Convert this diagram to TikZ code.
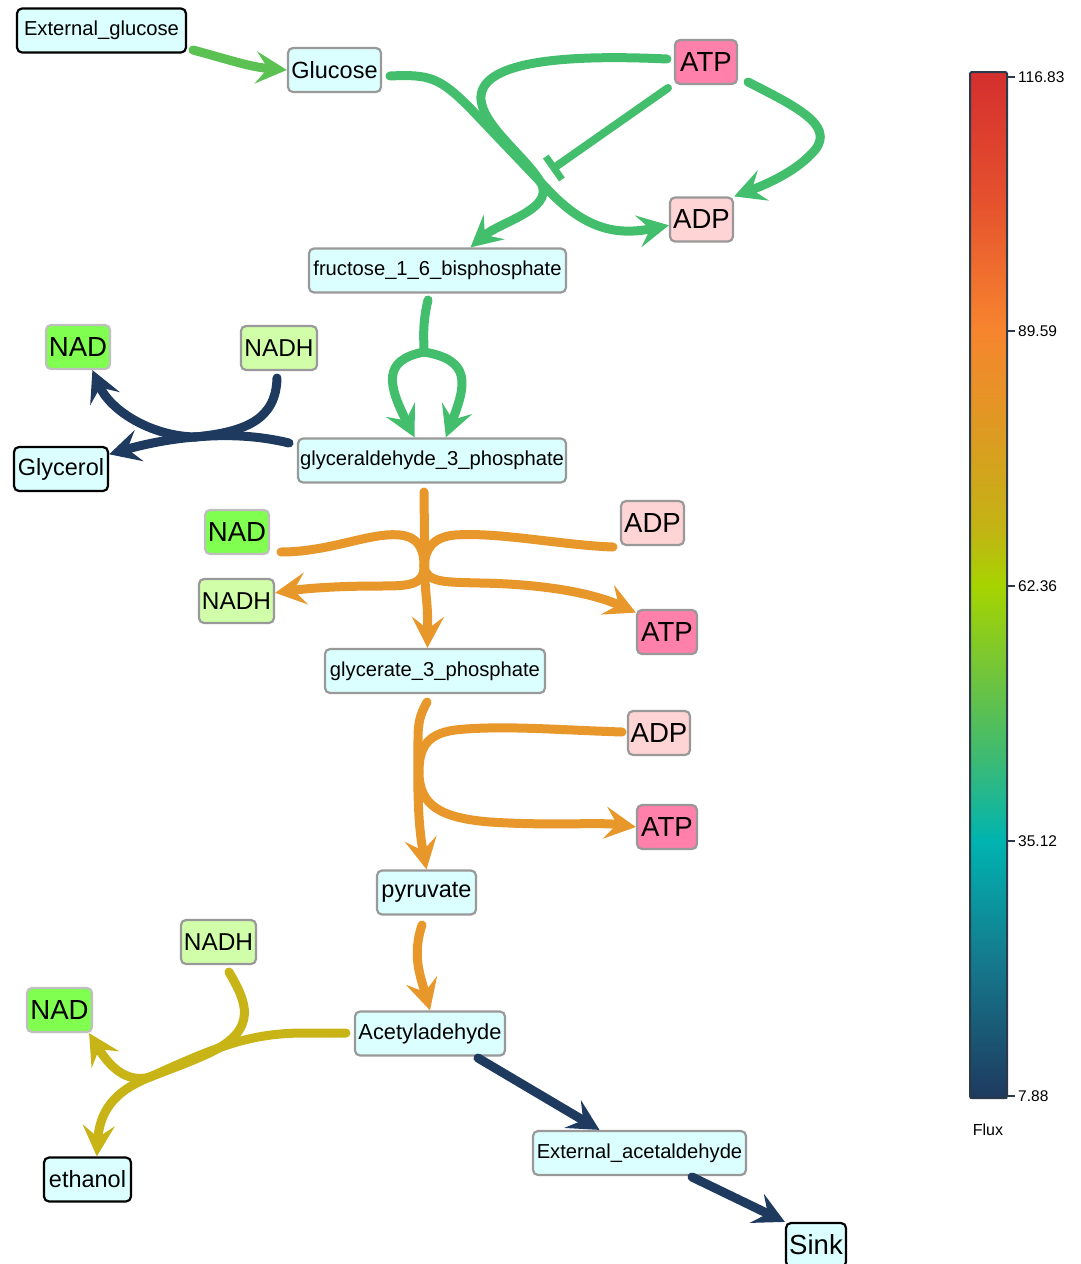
\documentclass[tikz,border=0pt]{standalone}
\usepackage{fontspec}
\setmainfont{Liberation Sans}
\usetikzlibrary{arrows.meta,calc}
\definecolor{cyanfill}{HTML}{DBFFFF}
\definecolor{atpfill}{HTML}{FF80AA}
\definecolor{adpfill}{HTML}{FFD4D4}
\definecolor{nadfill}{HTML}{80FF50}
\definecolor{nadhfill}{HTML}{D1FFA9}
\definecolor{bordergray}{HTML}{999999}
\definecolor{borderlight}{HTML}{BFBFBF}
\definecolor{fgreenA}{HTML}{5BC153}
\definecolor{fgreen}{HTML}{43BE6C}
\definecolor{forange}{HTML}{E8972A}
\definecolor{fnavy}{HTML}{1F3A5F}
\definecolor{folive}{HTML}{C8B417}
\definecolor{cbA}{HTML}{D42F2E}
\definecolor{cbB}{HTML}{E5512E}
\definecolor{cbC}{HTML}{F7852E}
\definecolor{cbD}{HTML}{DE9A22}
\definecolor{cbE}{HTML}{C2B414}
\definecolor{cbF}{HTML}{A6D400}
\definecolor{cbG}{HTML}{6EC43E}
\definecolor{cbH}{HTML}{3CBA74}
\definecolor{cbI}{HTML}{00B4B0}
\definecolor{cbJ}{HTML}{157A8E}
\definecolor{cbK}{HTML}{1E3A5F}
\definecolor{cbframe}{HTML}{2B3A4A}
\tikzset{
  met/.style={draw=bordergray, line width=2.2pt, rounded corners=5pt, minimum height=44pt,
    inner sep=0pt, fill=cyanfill, text=black},
  extmet/.style={met, draw=black},
  atpbox/.style={met, fill=atpfill},
  adpbox/.style={met, fill=adpfill},
  nadbox/.style={met, fill=nadfill, draw=borderlight},
  nadhbox/.style={met, fill=nadhfill},
  fsL/.style={font=\fontsize{20.2}{24}\selectfont},
  fsM/.style={font=\fontsize{23.5}{28}\selectfont},
  fsN/.style={font=\fontsize{24.4}{29}\selectfont},
  fsS/.style={font=\fontsize{27.6}{32}\selectfont},
  plainline/.style={line width=9pt, line cap=round},
  flowline/.style={plainline, -{Stealth[length=31pt,width=32pt,inset=12pt]}},
  tick/.style={draw=cbframe, line width=1.5pt},
  ticklabel/.style={anchor=west, inner sep=0pt, font=\fontsize{15.5}{18}\selectfont}
}
\begin{document}
\begin{tikzpicture}[x=1pt,y=-1pt]
\useasboundingbox (0,0) rectangle (1080,1264);

% ---------------- nodes ----------------
\node[extmet, fsL, minimum width=169pt] (extg) at (101.5,30.5) {External\_glucose};
\node[met, fsM, minimum width=93pt] (glc) at (334.5,70) {Glucose};
\node[atpbox, fsS, minimum width=62pt] (atp1) at (706,62) {ATP};
\node[adpbox, fsS, minimum width=63pt] (adp1) at (701.5,219.5) {ADP};
\node[met, fsL, minimum width=257pt] (f16) at (437.5,270.5) {fructose\_1\_6\_bisphosphate};
\node[nadbox, fsS, minimum width=64pt] (nad1) at (78,347) {NAD};
\node[nadhbox, fsN, minimum width=76pt] (nadh1) at (279,348) {NADH};
\node[extmet, fsM, minimum width=94pt] (glycerol) at (61,469) {Glycerol};
\node[met, fsL, minimum width=268pt] (g3p) at (432,460.5) {glyceraldehyde\_3\_phosphate};
\node[nadbox, fsS, minimum width=64pt] (nad2) at (237,532) {NAD};
\node[adpbox, fsS, minimum width=63pt] (adp2) at (652.5,523) {ADP};
\node[nadhbox, fsN, minimum width=75pt] (nadh2) at (236.5,601) {NADH};
\node[atpbox, fsS, minimum width=60pt] (atp2) at (667,632) {ATP};
\node[met, fsL, minimum width=220pt] (gly3p) at (435,671) {glycerate\_3\_phosphate};
\node[adpbox, fsS, minimum width=62pt] (adp3) at (659,733) {ADP};
\node[atpbox, fsS, minimum width=60pt] (atp3) at (667,827) {ATP};
\node[met, fsM, minimum width=99pt] (pyr) at (426.5,892.5) {pyruvate};
\node[nadhbox, fsN, minimum width=75pt] (nadh3) at (218.5,942) {NADH};
\node[nadbox, fsS, minimum width=65pt] (nad3) at (59.5,1010) {NAD};
\node[met, fsM, font=\fontsize{21.8}{26}\selectfont, minimum width=150pt] (acet) at (430,1033.5) {Acetyladehyde};
\node[extmet, fsM, minimum width=87pt] (ethanol) at (87.5,1179.5) {ethanol};
\node[met, fsL, minimum width=213pt] (extac) at (639.5,1153) {External\_acetaldehyde};
\node[extmet, fsS, minimum width=60pt] (sink) at (816,1245) {Sink};

% ---------------- free ends ----------------
\coordinate (egS) at (193,50);
\coordinate (glcS) at (390,76);
\coordinate (atpS) at (667,59);
\coordinate (atpI) at (668,88);
\coordinate (inhib) at (551,170);
\coordinate (atpR) at (748,82);
\coordinate (fS) at (428,300);
\coordinate (fJ) at (424,352);
\coordinate (gS) at (289,443);
\coordinate (nhS1) at (277,378);
\coordinate (gJ) at (195,437);
\coordinate (oS) at (424,492);
\coordinate (nadS2) at (281,552);
\coordinate (adpS2) at (613,547);
\coordinate (oJ) at (424,566);
\coordinate (pS) at (427,702);
\coordinate (adpS3) at (622,732);
\coordinate (pJ) at (419,772);
\coordinate (pyS) at (422,925);
\coordinate (acS) at (346,1033);
\coordinate (nhS3) at (229,972);
\coordinate (yJ) at (150,1077);
\coordinate (acS2) at (478,1058);
\coordinate (exS) at (692,1177);

% ---------------- green ----------------
\draw[flowline, fgreenA] (egS) .. controls (230,60) and (250,67) .. (glc.west);
\draw[flowline, fgreen] (glcS) .. controls (430,74) and (440,78) .. (470,108) -- (550,192)
  .. controls (585,228) and (615,236) .. (adp1.190);
\draw[flowline, fgreen] (atpS) .. controls (560,54) and (478,62) .. (481,100)
  .. controls (484,128) and (530,160) .. (542,185)
  .. controls (552,210) and (500,222) .. (f16.35);
\draw[line width=8pt, line cap=round, fgreen, -{Bar[width=28pt,line width=7pt]}] (atpI) -- (inhib);
\draw[flowline, fgreen] (atpR) .. controls (795,106) and (835,125) .. (815,150)
  .. controls (798,170) and (770,183) .. (adp1.north east);
\draw[plainline, fgreen] (fS) .. controls (422,325) and (424,340) .. (fJ);
\draw[flowline, fgreen] (fJ) .. controls (382,360) and (388,385) .. (g3p.127);
\draw[flowline, fgreen] (fJ) .. controls (472,360) and (466,385) .. (g3p.59);

% ---------------- navy (glycerol) ----------------
\draw[plainline, fnavy] (gS) .. controls (260,436) and (230,434) .. (gJ);
\draw[plainline, fnavy] (nhS1) .. controls (276,420) and (245,432) .. (gJ);
\draw[flowline, fnavy] (gJ) .. controls (170,439) and (145,444) .. (glycerol.17);
\draw[flowline, fnavy] (gJ) .. controls (150,436) and (110,410) .. (nad1.-58);

% ---------------- orange (g3p -> gly3p) ----------------
\draw[plainline, forange] (nadS2) .. controls (330,552) and (370,532) .. (400,535)
  .. controls (418,537) and (424,548) .. (oJ);
\draw[plainline, forange] (adpS2) .. controls (560,545) and (500,532) .. (455,535)
  .. controls (432,537) and (425,550) .. (oJ);
\draw[flowline, forange] (oJ) .. controls (424,585) and (410,586) .. (380,586)
  .. controls (340,586) and (310,588) .. (nadh2.12);
\draw[flowline, forange] (oJ) .. controls (426,583) and (445,582) .. (480,583)
  .. controls (540,584) and (590,592) .. (atp2.148);
\draw[flowline, forange] (oS) -- (425,580) .. controls (426,600) and (428,605) .. (gly3p.108);

% ---------------- orange (gly3p -> pyruvate) ----------------
\draw[flowline, forange] (pS) .. controls (420,715) and (418,722) .. (418,740)
  .. controls (417,800) and (419,830) .. (pyr.north);
\draw[plainline, forange] (adpS3) .. controls (560,730) and (500,725) .. (455,730)
  .. controls (425,734) and (419,750) .. (pJ);
\draw[flowline, forange] (pJ) .. controls (419,805) and (440,818) .. (490,822)
  .. controls (550,826) and (600,822) .. (atp3.west);
\draw[flowline, forange] (pyS) .. controls (412,955) and (420,975) .. (acet.north);

% ---------------- olive (ethanol) ----------------
\draw[plainline, folive] (acS) -- (300,1033) .. controls (250,1034) and (220,1045) .. (yJ);
\draw[plainline, folive] (nhS3) .. controls (245,1000) and (262,1030) .. (205,1055)
  .. controls (185,1064) and (165,1071) .. (yJ);
\draw[flowline, folive] (yJ) .. controls (125,1084) and (108,1064) .. (nad3.-38);
\draw[flowline, folive] (yJ) .. controls (122,1088) and (100,1105) .. (ethanol.68);

% ---------------- navy (export) ----------------
\draw[flowline, fnavy] (acS2) -- (extac.150);
\draw[flowline, fnavy] (exS) -- (sink.north west);

% ---------------- colour bar ----------------
\shade[top color=cbA, bottom color=cbB] (970,72) rectangle (1007,200);
\shade[top color=cbB, bottom color=cbC] (970,199.5) rectangle (1007,331);
\shade[top color=cbC, bottom color=cbD] (970,330.5) rectangle (1007,430);
\shade[top color=cbD, bottom color=cbE] (970,429.5) rectangle (1007,530);
\shade[top color=cbE, bottom color=cbF] (970,529.5) rectangle (1007,586);
\shade[top color=cbF, bottom color=cbG] (970,585.5) rectangle (1007,680);
\shade[top color=cbG, bottom color=cbH] (970,679.5) rectangle (1007,760);
\shade[top color=cbH, bottom color=cbI] (970,759.5) rectangle (1007,841);
\shade[top color=cbI, bottom color=cbJ] (970,840.5) rectangle (1007,960);
\shade[top color=cbJ, bottom color=cbK] (970,959.5) rectangle (1007,1098);
\draw[cbframe, line width=2pt, rounded corners=2pt] (970,72) rectangle (1007,1098);
\foreach \yy/\lab in {77/116.83, 331/89.59, 586/62.36, 841/35.12, 1096/7.88}{
  \draw[tick] (1007,\yy) -- (1015,\yy);
  \node[ticklabel] at (1018,\yy) {\lab};
}
\node[font=\fontsize{16}{19}\selectfont, inner sep=0pt] (fluxlab) at (988,1130) {Flux};
\end{tikzpicture}
\end{document}
